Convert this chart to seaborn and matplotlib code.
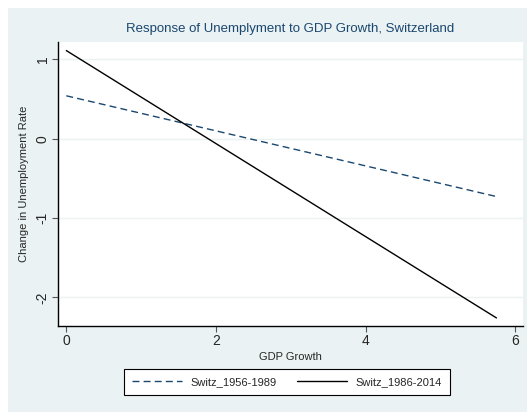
import matplotlib
matplotlib.use("Agg")
import matplotlib.pyplot as plt
import seaborn as sns
import pandas as pd
from matplotlib.patches import Rectangle

# fitted response lines
gdp_growth = [0.0, 5.75]
switz_1956_1989 = [0.54, -0.73]
switz_1986_2014 = [1.11, -2.26]
series_names = ["Switz_1956-1989", "Switz_1986-2014"]

df = pd.DataFrame({
    "GDP Growth": gdp_growth * 2,
    "Change in Unemployment Rate": switz_1956_1989 + switz_1986_2014,
    "series": [series_names[0]] * 2 + [series_names[1]] * 2,
})

sns.set_style("white")
plt.rcParams["font.family"] = ["Liberation Sans", "DejaVu Sans"]
plt.rcParams["axes.unicode_minus"] = False

bg = "#EAF2F3"
fig = plt.figure(figsize=(5.27, 4.13), dpi=100)
fig.patches.append(Rectangle((8 / 527, 1 / 413), 1 - 8 / 527, 404 / 413,
                             transform=fig.transFigure, facecolor=bg,
                             edgecolor="none", zorder=-1))
ax = fig.add_axes([58 / 527, 87.3 / 413, 465 / 527, 283.7 / 413])
ax.set_facecolor("white")

sns.lineplot(data=df, x="GDP Growth", y="Change in Unemployment Rate",
             hue="series", style="series",
             palette={series_names[0]: "#1A476F", series_names[1]: "black"},
             dashes={series_names[0]: (5, 3), series_names[1]: ""},
             linewidth=1.0, legend=False, ax=ax)

ax.set_xlim(-0.111, 6.105)
ax.set_ylim(-2.358, 1.218)
ax.set_xticks([0, 2, 4, 6])
ax.set_yticks([-2, -1, 0, 1])
ax.yaxis.grid(True, color=bg, linewidth=1.0)
ax.set_axisbelow(True)
for s in ["top", "right"]:
    ax.spines[s].set_visible(False)
for s in ["left", "bottom"]:
    ax.spines[s].set_color("black")
    ax.spines[s].set_linewidth(1.0)
ax.tick_params(axis="both", direction="out", length=4, width=0.8,
               color="#555555", labelsize=10, pad=2, bottom=True, left=True)
plt.setp(ax.get_yticklabels(), rotation=90, va="center")
ax.set_xlabel("GDP Growth", fontsize=8, labelpad=3)
ax.set_ylabel("Change in Unemployment Rate", fontsize=8, labelpad=5)
ax.set_title("Response of Unemplyment to GDP Growth, Switzerland",
             fontsize=9.5, color="#1A476F", pad=7)

handles = [
    plt.Line2D([], [], color="#1A476F", linestyle=(0, (5, 3)), linewidth=1.0),
    plt.Line2D([], [], color="black", linewidth=1.0),
]
leg = fig.legend(handles, series_names, loc="center",
                 bbox_to_anchor=(287 / 527, 31 / 413), ncol=2, fontsize=8,
                 frameon=True, fancybox=False, framealpha=1, handlelength=4.5,
                 columnspacing=1.8, borderpad=0.7)
leg.get_frame().set_edgecolor("black")
leg.get_frame().set_linewidth(0.8)
leg.get_frame().set_facecolor("white")

fig.savefig("out.png", dpi=100, facecolor="white")
